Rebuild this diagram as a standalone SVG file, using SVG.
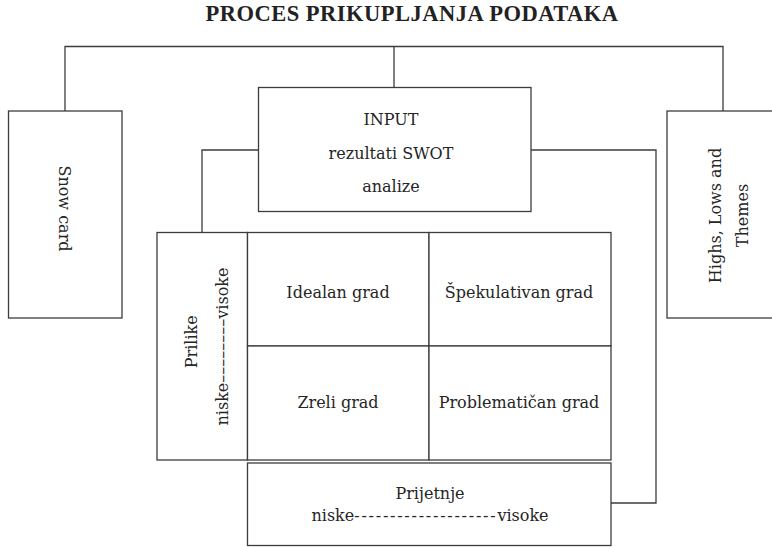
<svg xmlns="http://www.w3.org/2000/svg" width="772" height="547" viewBox="0 0 772 547">
<style>
.box{fill:#fff;stroke:#3c3c3c;stroke-width:1.3}
.ln{fill:none;stroke:#3c3c3c;stroke-width:1.3}
.t{font-family:"DejaVu Serif","Liberation Serif",serif;font-size:16px;fill:#252525;text-anchor:middle}
.title{font-family:"Liberation Serif","DejaVu Serif",serif;font-size:22.5px;font-weight:bold;letter-spacing:0.5px;fill:#222;text-anchor:middle}
</style>
<rect width="772" height="547" fill="#fff"/>
<text class="title" x="412" y="21">PROCES PRIKUPLJANJA PODATAKA</text>
<g id="connectors">
<polyline class="ln" points="65,111 65,46.5 723,46.5 723,111"/>
<line class="ln" x1="394" y1="46.5" x2="394" y2="88"/>
<polyline class="ln" points="258,150 202,150 202,232"/>
<polyline class="ln" points="531,150 656,150 656,503 611,503"/>
</g>
<g id="snow-card">
<rect class="box" x="8.5" y="111" width="113.5" height="207"/>
<text class="t" transform="translate(58.5,208.5) rotate(90)" x="0" y="0">Snow card</text>
</g>
<g id="input">
<rect class="box" x="258.5" y="87.5" width="272.5" height="124"/>
<text class="t" x="391" y="125">INPUT</text>
<text class="t" x="391" y="159">rezultati SWOT</text>
<text class="t" x="391" y="191.5">analize</text>
</g>
<g id="highs">
<rect class="box" x="667" y="111" width="120" height="207"/>
<text class="t" transform="translate(720.5,215.5) rotate(-90)"><tspan x="0" y="0">Highs, Lows and</tspan><tspan x="0" y="27.8">Themes</tspan></text>
</g>
<g id="prilike">
<rect class="box" x="157" y="232.5" width="90.5" height="227.5"/>
<text class="t" transform="translate(196.5,341.7) rotate(-90)" x="0" y="0">Prilike</text>
<text class="t" transform="translate(228,346.5) rotate(-90)" x="0" y="0">niske––––––––visoke</text>
</g>
<g id="idealan">
<rect class="box" x="247.5" y="232.5" width="181.5" height="113.5"/>
<text class="t" x="338" y="298.3">Idealan grad</text>
</g>
<g id="spekulativan">
<rect class="box" x="429" y="232.5" width="182" height="113.5"/>
<text class="t" x="519" y="297.5">Špekulativan grad</text>
</g>
<g id="zreli">
<rect class="box" x="247.5" y="346" width="181.5" height="114"/>
<text class="t" x="338" y="408.3">Zreli grad</text>
</g>
<g id="problematican">
<rect class="box" x="429" y="346" width="182" height="114"/>
<text class="t" x="519" y="408.3">Problematičan grad</text>
</g>
<g id="prijetnje">
<rect class="box" x="247.5" y="463" width="363.5" height="82.5"/>
<text class="t" x="430" y="499">Prijetnje</text>
<text class="t" x="430" y="520.7">niske<tspan letter-spacing="1.75">--------------------</tspan>visoke</text>
</g>
</svg>
